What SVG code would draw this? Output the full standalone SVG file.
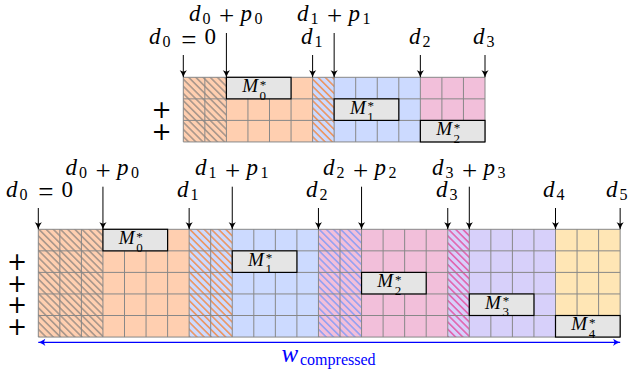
<svg xmlns="http://www.w3.org/2000/svg" width="629" height="377" viewBox="0 0 629 377">
<style>
.or{fill:#FFCFB0}.bl{fill:#CCDAFF}.pk{fill:#F2BFDA}.pu{fill:#D7D0FA}.ye{fill:#FFE6B5}
.grid{fill:none;stroke:#888;stroke-width:1}
.mbox{fill:#E5E5E5;stroke:#000;stroke-width:1.2}
.conn{stroke:#000;stroke-width:1;fill:none}
.var{font-style:italic;font-size:23px}
.sub{font-size:16px}
.opr{font-size:27px;text-anchor:middle}
.num{font-size:23px}
.mlab{font-style:italic;font-size:19px}
.msc{font-size:13px}
.plus{font-size:24px;text-anchor:middle}
</style>
<defs>
<pattern id="hGray" width="10" height="5.08" patternUnits="userSpaceOnUse" patternTransform="rotate(45)"><line x1="0" y1="2.54" x2="10" y2="2.54" stroke="#737373" stroke-width="1"/></pattern>
<pattern id="hOrange" width="10" height="5.08" patternUnits="userSpaceOnUse" patternTransform="rotate(45)"><line x1="0" y1="2.54" x2="10" y2="2.54" stroke="#FF6A00" stroke-width="1"/></pattern>
<pattern id="hBlue" width="10" height="5.08" patternUnits="userSpaceOnUse" patternTransform="rotate(45)"><line x1="0" y1="2.54" x2="10" y2="2.54" stroke="#5A8CFF" stroke-width="1"/></pattern>
<pattern id="hPink" width="10" height="5.08" patternUnits="userSpaceOnUse" patternTransform="rotate(45)"><line x1="0" y1="2.54" x2="10" y2="2.54" stroke="#E8207F" stroke-width="1"/></pattern>
<marker id="ah" viewBox="-8 -5 9 10" refX="0" refY="0" markerWidth="9" markerHeight="10" markerUnits="userSpaceOnUse" orient="auto">
<path d="M0,0 C-2.5,-0.8 -5,-2.2 -7,-3.6 L-5.6,0 L-7,3.6 C-5,2.2 -2.5,0.8 0,0 Z" fill="#000"/>
</marker>
<marker id="ahb" viewBox="-8 -5 9 10" refX="0" refY="0" markerWidth="9" markerHeight="10" markerUnits="userSpaceOnUse" orient="auto-start-reverse">
<path d="M0,0 C-2.5,-0.8 -5,-2.2 -7,-3.6 L-5.6,0 L-7,3.6 C-5,2.2 -2.5,0.8 0,0 Z" fill="#0000FF"/>
</marker>
</defs>
<rect width="629" height="377" fill="#fff"/>

<!-- Top diagram -->
<g id="top-seg0">
<rect class="or" x="183.3" y="77.3" width="129.3" height="64.65"/>
<rect fill="url(#hGray)" x="183.3" y="77.3" width="43.1" height="64.65"/>
</g>
<g id="top-seg1">
<rect class="bl" x="312.6" y="77.3" width="107.75" height="64.65"/>
<rect fill="url(#hOrange)" x="312.6" y="77.3" width="21.55" height="64.65"/>
</g>
<g id="top-seg2">
<rect class="pk" x="420.35" y="77.3" width="64.65" height="64.65"/>
</g>
<path class="grid" d="M183.3 77.3V141.95M204.85 77.3V141.95M226.4 77.3V141.95M247.95 77.3V141.95M269.5 77.3V141.95M291.05 77.3V141.95M312.6 77.3V141.95M334.15 77.3V141.95M355.7 77.3V141.95M377.25 77.3V141.95M398.8 77.3V141.95M420.35 77.3V141.95M441.9 77.3V141.95M463.45 77.3V141.95M485 77.3V141.95M183.3 77.3H485M183.3 98.85H485M183.3 120.4H485M183.3 141.95H485"/>

<g font-family="Liberation Serif, Times New Roman, serif" fill="#000">
<g id="top-M0">
<rect class="mbox" x="226.4" y="77.3" width="64.65" height="21.55"/>
<text class="mlab" x="242.2" y="92">M</text><text class="msc" x="259.8" y="88.5">*</text><text class="msc" x="259.6" y="99.5">0</text>
</g>
<g id="top-M1">
<rect class="mbox" x="334.15" y="98.85" width="64.65" height="21.55"/>
<text class="mlab" x="349.95" y="113.55">M</text><text class="msc" x="367.55" y="110.05">*</text><text class="msc" x="367.35" y="121.05">1</text>
</g>
<g id="top-M2">
<rect class="mbox" x="420.35" y="120.4" width="64.65" height="21.55"/>
<text class="mlab" x="436.15" y="135.1">M</text><text class="msc" x="453.75" y="131.6">*</text><text class="msc" x="453.55" y="142.6">2</text>
</g>
</g>

<g font-family="DejaVu Sans, sans-serif" fill="#000">
<text class="plus" x="161.5" y="118.1">+</text>
<text class="plus" x="161.5" y="139.7">+</text>
</g>

<!-- Bottom diagram -->
<g id="bot-seg0">
<rect class="or" x="38.3" y="229.3" width="150.85" height="107.75"/>
<rect fill="url(#hGray)" x="38.3" y="229.3" width="64.65" height="107.75"/>
</g>
<g id="bot-seg1">
<rect class="bl" x="189.15" y="229.3" width="129.3" height="107.75"/>
<rect fill="url(#hOrange)" x="189.15" y="229.3" width="43.1" height="107.75"/>
</g>
<g id="bot-seg2">
<rect class="pk" x="318.45" y="229.3" width="129.3" height="107.75"/>
<rect fill="url(#hBlue)" x="318.45" y="229.3" width="43.1" height="107.75"/>
</g>
<g id="bot-seg3">
<rect class="pu" x="447.75" y="229.3" width="107.75" height="107.75"/>
<rect fill="url(#hPink)" x="447.75" y="229.3" width="21.55" height="107.75"/>
</g>
<g id="bot-seg4">
<rect class="ye" x="555.5" y="229.3" width="64.65" height="107.75"/>
</g>
<path class="grid" d="M38.3 229.3V337.05M59.85 229.3V337.05M81.4 229.3V337.05M102.95 229.3V337.05M124.5 229.3V337.05M146.05 229.3V337.05M167.6 229.3V337.05M189.15 229.3V337.05M210.7 229.3V337.05M232.25 229.3V337.05M253.8 229.3V337.05M275.35 229.3V337.05M296.9 229.3V337.05M318.45 229.3V337.05M340 229.3V337.05M361.55 229.3V337.05M383.1 229.3V337.05M404.65 229.3V337.05M426.2 229.3V337.05M447.75 229.3V337.05M469.3 229.3V337.05M490.85 229.3V337.05M512.4 229.3V337.05M533.95 229.3V337.05M555.5 229.3V337.05M577.05 229.3V337.05M598.6 229.3V337.05M620.15 229.3V337.05M38.3 229.3H620.15M38.3 250.85H620.15M38.3 272.4H620.15M38.3 293.95H620.15M38.3 315.5H620.15M38.3 337.05H620.15"/>

<g font-family="Liberation Serif, Times New Roman, serif" fill="#000">
<g id="bot-M0">
<rect class="mbox" x="102.95" y="229.3" width="64.65" height="21.55"/>
<text class="mlab" x="118.75" y="244">M</text><text class="msc" x="136.35" y="240.5">*</text><text class="msc" x="136.15" y="251.5">0</text>
</g>
<g id="bot-M1">
<rect class="mbox" x="232.25" y="250.85" width="64.65" height="21.55"/>
<text class="mlab" x="248.05" y="265.55">M</text><text class="msc" x="265.65" y="262.05">*</text><text class="msc" x="265.45" y="273.05">1</text>
</g>
<g id="bot-M2">
<rect class="mbox" x="361.55" y="272.4" width="64.65" height="21.55"/>
<text class="mlab" x="377.35" y="287.1">M</text><text class="msc" x="394.95" y="283.6">*</text><text class="msc" x="394.75" y="294.6">2</text>
</g>
<g id="bot-M3">
<rect class="mbox" x="469.3" y="293.95" width="64.65" height="21.55"/>
<text class="mlab" x="485.1" y="308.65">M</text><text class="msc" x="502.7" y="305.15">*</text><text class="msc" x="502.5" y="316.15">3</text>
</g>
<g id="bot-M4">
<rect class="mbox" x="555.5" y="315.5" width="64.65" height="21.55"/>
<text class="mlab" x="571.3" y="330.2">M</text><text class="msc" x="588.9" y="326.7">*</text><text class="msc" x="588.7" y="337.7">4</text>
</g>
</g>

<g font-family="DejaVu Sans, sans-serif" fill="#000">
<text class="plus" x="17" y="270.1">+</text>
<text class="plus" x="17" y="291.7">+</text>
<text class="plus" x="17" y="313.2">+</text>
<text class="plus" x="17" y="334.8">+</text>
</g>

<g id="connectors">
<path class="conn" marker-end="url(#ah)" d="M183.3 55V77.3"/>
<path class="conn" marker-end="url(#ah)" d="M226.4 33V77.3"/>
<path class="conn" marker-end="url(#ah)" d="M312.6 55V77.3"/>
<path class="conn" marker-end="url(#ah)" d="M334.15 33V77.3"/>
<path class="conn" marker-end="url(#ah)" d="M420.35 55V77.3"/>
<path class="conn" marker-end="url(#ah)" d="M485 55V77.3"/>
<path class="conn" marker-end="url(#ah)" d="M38.3 208V229.3"/>
<path class="conn" marker-end="url(#ah)" d="M102.95 186.7V229.3"/>
<path class="conn" marker-end="url(#ah)" d="M189.15 208V229.3"/>
<path class="conn" marker-end="url(#ah)" d="M232.25 186.7V229.3"/>
<path class="conn" marker-end="url(#ah)" d="M318.45 208V229.3"/>
<path class="conn" marker-end="url(#ah)" d="M361.55 186.7V229.3"/>
<path class="conn" marker-end="url(#ah)" d="M447.75 208V229.3"/>
<path class="conn" marker-end="url(#ah)" d="M469.3 186.7V229.3"/>
<path class="conn" marker-end="url(#ah)" d="M555.5 208V229.3"/>
<path class="conn" marker-end="url(#ah)" d="M620.15 208V229.3"/>
<path stroke="#0000FF" stroke-width="1.2" fill="none" marker-start="url(#ahb)" marker-end="url(#ahb)" d="M38.3 342.3H620.15"/>
</g>

<g id="labels" font-family="Liberation Serif, Times New Roman, serif" fill="#000">
<text><tspan class="var" x="149" y="44">d</tspan><tspan class="sub" x="162.5" y="47">0</tspan><tspan class="opr" x="188.8" y="48.5">=</tspan><tspan class="num" x="204.5" y="44">0</tspan></text>
<text><tspan class="var" x="189" y="20.7">d</tspan><tspan class="sub" x="202.5" y="23.7">0</tspan><tspan class="opr" x="226.5" y="25.2">+</tspan><tspan class="var" x="240.5" y="20.7">p</tspan><tspan class="sub" x="254.5" y="23.7">0</tspan></text>
<text><tspan class="var" x="301" y="44">d</tspan><tspan class="sub" x="314.5" y="47">1</tspan></text>
<text><tspan class="var" x="297" y="20.7">d</tspan><tspan class="sub" x="310.5" y="23.7">1</tspan><tspan class="opr" x="334.5" y="25.2">+</tspan><tspan class="var" x="348.5" y="20.7">p</tspan><tspan class="sub" x="362.5" y="23.7">1</tspan></text>
<text><tspan class="var" x="409" y="44">d</tspan><tspan class="sub" x="422.5" y="47">2</tspan></text>
<text><tspan class="var" x="473" y="44">d</tspan><tspan class="sub" x="486.5" y="47">3</tspan></text>

<text><tspan class="var" x="6" y="196.7">d</tspan><tspan class="sub" x="19.5" y="199.7">0</tspan><tspan class="opr" x="45.8" y="201.2">=</tspan><tspan class="num" x="61.5" y="196.7">0</tspan></text>
<text><tspan class="var" x="65.5" y="175">d</tspan><tspan class="sub" x="79" y="178">0</tspan><tspan class="opr" x="103" y="179.5">+</tspan><tspan class="var" x="117" y="175">p</tspan><tspan class="sub" x="131" y="178">0</tspan></text>
<text><tspan class="var" x="177" y="196.7">d</tspan><tspan class="sub" x="190.5" y="199.7">1</tspan></text>
<text><tspan class="var" x="195" y="175">d</tspan><tspan class="sub" x="208.5" y="178">1</tspan><tspan class="opr" x="232.5" y="179.5">+</tspan><tspan class="var" x="246.5" y="175">p</tspan><tspan class="sub" x="260.5" y="178">1</tspan></text>
<text><tspan class="var" x="306" y="196.7">d</tspan><tspan class="sub" x="319.5" y="199.7">2</tspan></text>
<text><tspan class="var" x="323" y="175">d</tspan><tspan class="sub" x="336.5" y="178">2</tspan><tspan class="opr" x="360.5" y="179.5">+</tspan><tspan class="var" x="374.5" y="175">p</tspan><tspan class="sub" x="388.5" y="178">2</tspan></text>
<text><tspan class="var" x="436" y="196.7">d</tspan><tspan class="sub" x="449.5" y="199.7">3</tspan></text>
<text><tspan class="var" x="432" y="175">d</tspan><tspan class="sub" x="445.5" y="178">3</tspan><tspan class="opr" x="469.5" y="179.5">+</tspan><tspan class="var" x="483.5" y="175">p</tspan><tspan class="sub" x="497.5" y="178">3</tspan></text>
<text><tspan class="var" x="543" y="196.7">d</tspan><tspan class="sub" x="556.5" y="199.7">4</tspan></text>
<text><tspan class="var" x="606" y="196.7">d</tspan><tspan class="sub" x="619.5" y="199.7">5</tspan></text>
<text fill="#0000FF"><tspan x="281.5" y="361.5" font-style="italic" font-size="25">w</tspan><tspan x="300" y="364.5" font-size="16">compressed</tspan></text>
</g>
</svg>
